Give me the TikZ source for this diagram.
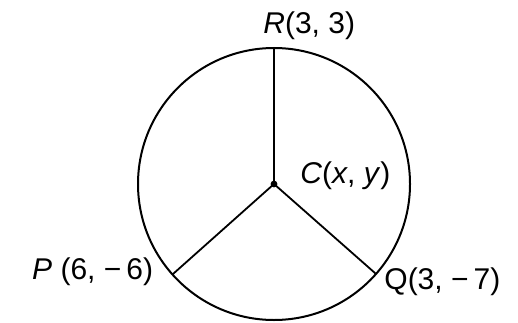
\documentclass[tikz,border=0pt]{standalone}
\usepackage{fontspec}
\setmainfont{Liberation Sans}
\usetikzlibrary{positioning}

\begin{document}
\begin{tikzpicture}[x=0.5pt, y=0.5pt,
    lbl/.style={inner sep=0pt, font=\fontsize{15}{18}\selectfont},
    spoke/.style={line width=0.9pt}]
\useasboundingbox (0,0) rectangle (518,322);

\coordinate (c) at (274,138);
\draw[line width=1pt] (c) circle [radius=136];
\path (c) ++(90:136) coordinate (r);
\path (c) ++(221.7:136) coordinate (p);
\path (c) ++(318.6:136) coordinate (q);

\node[circle, fill, inner sep=1.2pt] (cdot) at (c) {};
    \draw[spoke] (cdot.center) -- (r);
    \draw[spoke] (cdot.center) -- (p);
    \draw[spoke] (cdot.center) -- (q);

\node[lbl, anchor=base west] (rlab) at ([shift={(-11,14)}]r) {\textit{R}(3, 3)};
\node[lbl, anchor=base west] (clab) at ([shift={(26,1)}]c) {\textit{C}(\textit{x}, \textit{y})};
\node[lbl, anchor=base east] (plab) at ([shift={(-19,-5)}]p) {\textit{P} (6, −\,6)};
\node[lbl, anchor=base west] (qlab) at ([shift={(8,-16)}]q) {Q(3, −\,7)};
\end{tikzpicture}
\end{document}
